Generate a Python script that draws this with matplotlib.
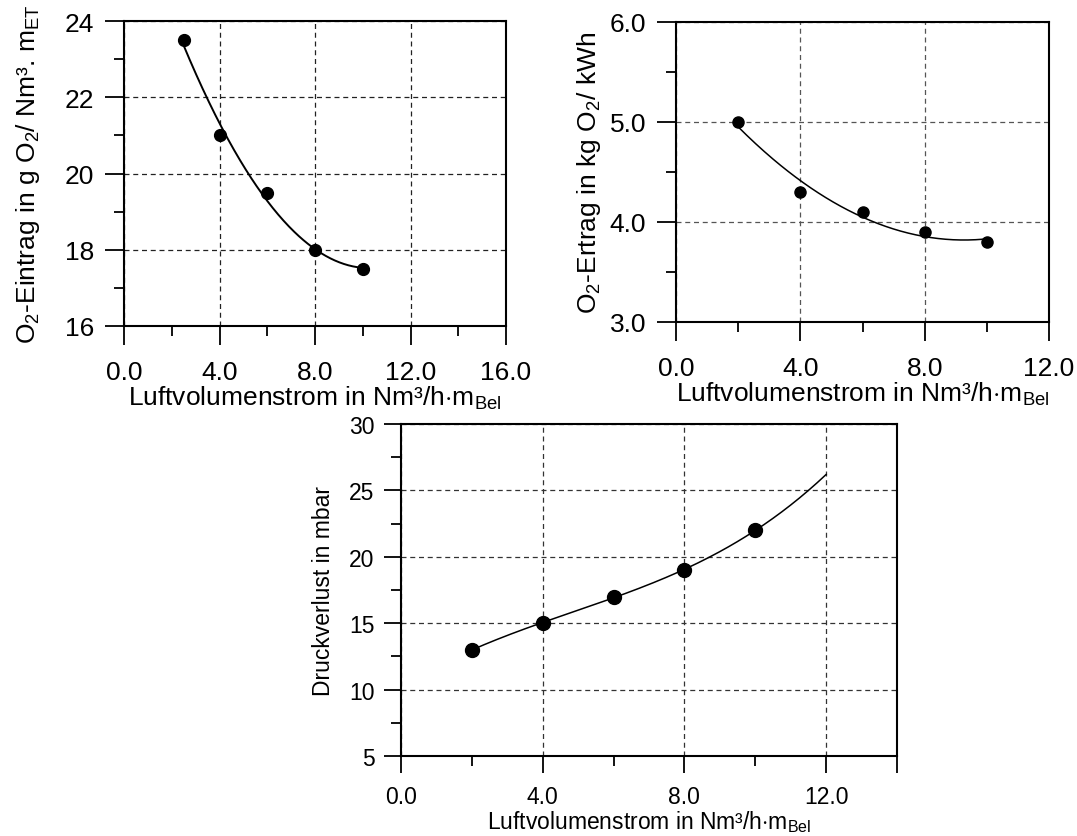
import numpy as np
import matplotlib
matplotlib.use("Agg")
import matplotlib.pyplot as plt
from matplotlib.ticker import FixedLocator, MultipleLocator

plt.rcParams['font.family'] = ['Liberation Sans', 'DejaVu Sans']
plt.rcParams['mathtext.fontset'] = 'custom'
plt.rcParams['mathtext.rm'] = 'Liberation Sans'
plt.rcParams['mathtext.it'] = 'Liberation Sans:italic'

# data
x1 = [2.5, 4, 6, 8, 10]
y1 = [23.5, 21.0, 19.5, 18.0, 17.5]

x2 = [2, 4, 6, 8, 10]
y2 = [5.0, 4.3, 4.1, 3.9, 3.8]

x3 = [2, 4, 6, 8, 10]
y3 = [13, 15, 17, 19, 22]

xlab = 'Luftvolumenstrom in Nm³/h$\\cdot$m$_\\mathrm{Bel}$'

fig = plt.figure(figsize=(10.77, 8.37), dpi=100)
ax1 = fig.add_axes([124/1077, 1-327/837, 382/1077, 305/837])
ax2 = fig.add_axes([676/1077, 1-323/837, 373/1077, 300/837])
ax3 = fig.add_axes([401/1077, 1-757/837, 496/1077, 332/837])


def style(ax, xmax, xticks, xlabels, ylim, yticks, ylabels, yminor, fs, grid_col, tl, xpad, ypad):
    ax.set_xlim(0, xmax)
    ax.set_ylim(*ylim)
    ax.xaxis.set_major_locator(FixedLocator(xticks))
    ax.set_xticklabels(xlabels)
    ax.xaxis.set_minor_locator(MultipleLocator(2))
    ax.yaxis.set_major_locator(FixedLocator(yticks))
    ax.set_yticklabels(ylabels)
    ax.yaxis.set_minor_locator(MultipleLocator(yminor))
    ax.tick_params(which='major', direction='out', length=tl, width=1.3, labelsize=fs)
    ax.tick_params(axis='x', which='major', pad=xpad)
    ax.tick_params(axis='y', which='major', pad=ypad)
    ax.tick_params(which='minor', direction='out', length=7, width=1.3)
    for s in ax.spines.values():
        s.set_linewidth(1.5)
    ax.grid(True, which='major', linestyle=(0, (4, 3)), color=grid_col, linewidth=0.9)
    ax.set_axisbelow(True)


# panel 1
style(ax1, 16, [0, 4, 8, 12, 16], ['0.0', '4.0', '8.0', '12.0', '16.0'],
      (16, 24), [16, 18, 20, 22, 24], ['16', '18', '20', '22', '24'], 1, 19, '#222222', 14, 10.5, 7.5)
c1 = np.polyfit(x1, y1, 2)
xs1 = np.linspace(min(x1), max(x1), 200)
ax1.plot(xs1, np.polyval(c1, xs1), color='black', linewidth=1.4)
ax1.plot(x1, y1, 'o', color='black', markersize=8.5)
ax1.set_xlabel(xlab, fontsize=19, labelpad=0)
ax1.set_ylabel('O$_\\mathrm{2}$-Eintrag in g O$_\\mathrm{2}$/ Nm³. m$_\\mathrm{ET}$', fontsize=19, labelpad=16)

# panel 2
style(ax2, 12, [0, 4, 8, 12], ['0.0', '4.0', '8.0', '12.0'],
      (3, 6), [3, 4, 5, 6], ['3.0', '4.0', '5.0', '6.0'], 0.5, 19, '#555555', 14, 10.5, 7.5)
c2 = np.polyfit(x2, y2, 2)
xs2 = np.linspace(min(x2), max(x2), 200)
ax2.plot(xs2, np.polyval(c2, xs2), color='black', linewidth=1.1)
ax2.plot(x2, y2, 'o', color='black', markersize=8)
ax2.set_xlabel(xlab, fontsize=19, labelpad=0)
ax2.set_ylabel('O$_\\mathrm{2}$-Ertrag in kg O$_\\mathrm{2}$/ kWh', fontsize=19, labelpad=5)

# panel 3
style(ax3, 14, [0, 4, 8, 12, 14], ['0.0', '4.0', '8.0', '12.0', ''],
      (5, 30), [5, 10, 15, 20, 25, 30], ['5', '10', '15', '20', '25', '30'], 2.5, 16.5, '#333333', 12, 9, 7)
c3 = np.polyfit(x3, y3, 3)
xs3 = np.linspace(min(x3), 12, 200)
ax3.plot(xs3, np.polyval(c3, xs3), color='black', linewidth=1.1)
ax3.plot(x3, y3, 'o', color='black', markersize=10)
ax3.set_xlabel(xlab, fontsize=16.5, labelpad=0)
ax3.set_ylabel('Druckverlust in mbar', fontsize=16.5, labelpad=10)

fig.savefig('out.png', dpi=100)
